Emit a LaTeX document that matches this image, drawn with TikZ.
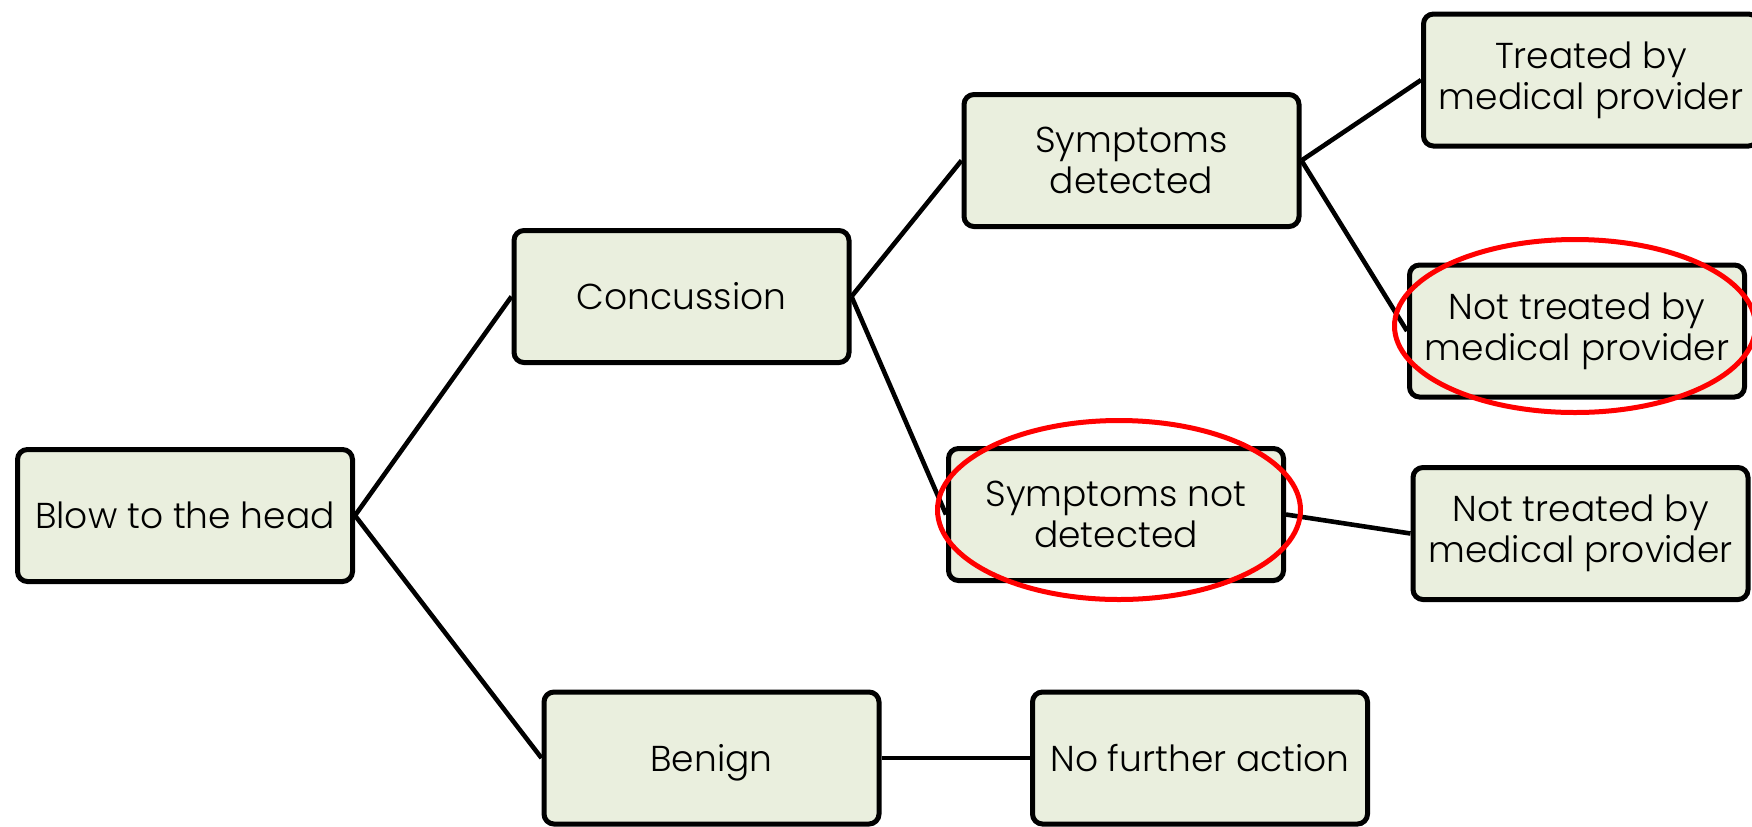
\documentclass[tikz,border=0pt]{standalone}
\usepackage{fontspec}
\setmainfont{Poppins}[UprightFont=* Light]
\usetikzlibrary{shapes.geometric}
\definecolor{boxfill}{RGB}{234,239,222}
\definecolor{ringred}{RGB}{255,0,0}
\tikzset{
  stagebox/.style={draw=black, line width=2.5pt, rounded corners=5pt, fill=boxfill,
    minimum width=167.5pt, minimum height=66pt, align=center, inner sep=0pt,
    font=\fontsize{18}{20.5}\selectfont},
  conn/.style={draw=black, line width=2.3pt},
  ring/.style={draw=ringred, line width=2.5pt, ellipse, inner sep=0pt}
}
\begin{document}
\begin{tikzpicture}[x=0.5pt,y=-0.5pt]
\useasboundingbox (0,0) rectangle (1752,826);
\clip (0,0) rectangle (1752,826);
\node[stagebox] (blow) at (185,515.5) {Blow to the head};
\node[stagebox] (conc) at (681.5,296.5) {Concussion};
\node[stagebox] (sdet) at (1131.5,160.5) {Symptoms\\detected};
\node[stagebox] (snot) at (1116,514.5) {Symptoms not\\detected};
\node[stagebox] (treat) at (1591,80) {Treated by\\medical provider};
\node[stagebox] (nt1) at (1577,331) {Not treated by\\medical provider};
\node[stagebox] (nt2) at (1580.5,533.5) {Not treated by\\medical provider};
\node[stagebox, text depth=0pt] (benign) at (711.5,758) {Benign};
\node[stagebox] (nfa) at (1200,758) {No further action};
\draw[conn] (blow.east) -- (conc.west);
\draw[conn] (blow.east) -- (benign.west);
\draw[conn] (conc.east) -- (sdet.west);
\draw[conn] (conc.east) -- (snot.west);
\draw[conn] (sdet.east) -- (treat.west);
\draw[conn] (sdet.east) -- (nt1.west);
\draw[conn] (snot.east) -- (nt2.west);
\draw[conn] (benign.east) -- (nfa.west);
\node[ring, minimum width=180.5pt, minimum height=86.5pt] (ring1) at (1575,326) {};
\node[ring, minimum width=181.5pt, minimum height=89.5pt] (ring2) at (1119,510) {};
\end{tikzpicture}
\end{document}
